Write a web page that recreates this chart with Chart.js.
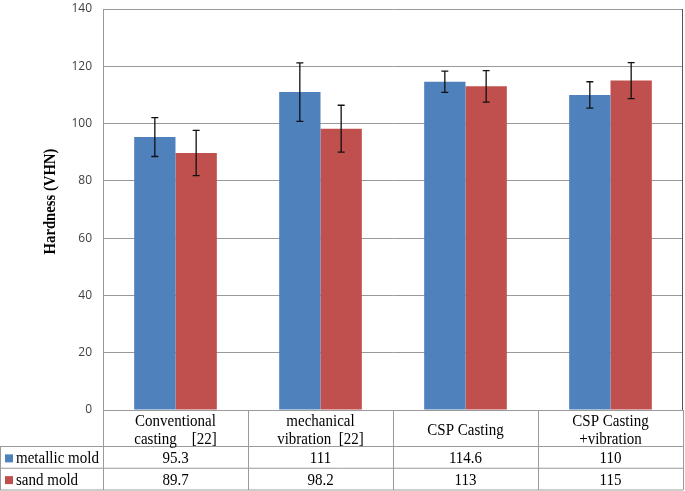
<!DOCTYPE html>
<html lang="en">
<head>
    <meta charset="UTF-8">
    <title>Hardness (VHN)</title>
    <script src="https://cdn.jsdelivr.net/npm/chart.js"></script>
    <style>
        html, body { margin: 0; padding: 0; background: #fff; }
    </style>
</head>
<body>
    <canvas id="hardnessChart" width="685" height="491"></canvas>

    <script>
        // chart data
        const categories = [
            ['Conventional', 'casting    [22]'],
            ['mechanical', 'vibration  [22]'],
            ['CSP Casting'],
            ['CSP Casting', '+vibration']
        ];
        const seriesNames = ['metallic mold', 'sand mold'];
        const metallicMold = [95.3, 111, 114.6, 110];
        const sandMold = [89.7, 98.2, 113, 115];
        const metallicErr = [6.8, 10.2, 3.7, 4.6];
        const sandErr = [7.9, 8.2, 5.5, 6.3];
        const yMin = 0, yMax = 140, yStep = 20;
        const yTitle = 'Hardness (VHN)';

        const colors = ['#4F81BD', '#C0504D'];
        const errors = [metallicErr, sandErr];
        const tableFont = '15px "Liberation Serif", "Times New Roman", serif';

        // text in the original is a little stretched vertically
        function tallText(ctx, t, x, y) {
            ctx.save();
            ctx.translate(x, y);
            ctx.scale(1, 1.15);
            ctx.fillText(t, 0, 0);
            ctx.restore();
        }

        // error bars on top of each bar
        const errorBars = {
            id: 'errorBars',
            afterDatasetsDraw(chart) {
                const ctx = chart.ctx;
                const y = chart.scales.y;
                ctx.save();
                ctx.strokeStyle = '#111';
                ctx.lineWidth = 1.3;
                chart.data.datasets.forEach((ds, d) => {
                    chart.getDatasetMeta(d).data.forEach((bar, i) => {
                        const hi = y.getPixelForValue(ds.data[i] + errors[d][i]);
                        const lo = y.getPixelForValue(ds.data[i] - errors[d][i]);
                        ctx.beginPath();
                        ctx.moveTo(bar.x, hi); ctx.lineTo(bar.x, lo);
                        ctx.moveTo(bar.x - 3.5, hi); ctx.lineTo(bar.x + 3.5, hi);
                        ctx.moveTo(bar.x - 3.5, lo); ctx.lineTo(bar.x + 3.5, lo);
                        ctx.stroke();
                    });
                });
                ctx.restore();
            }
        };

        // data table under the plot, axis title and frame
        const dataTable = {
            id: 'dataTable',
            afterDraw(chart) {
                const ctx = chart.ctx;
                const area = chart.chartArea;
                const x = chart.scales.x;
                const n = categories.length;
                const half = (x.getPixelForValue(1) - x.getPixelForValue(0)) / 2;
                const rowTop = area.bottom;
                const rowHead = 446.5, rowEnd = 490;
                const rowH = (rowEnd - rowHead) / 2;

                ctx.save();
                // right frame line
                ctx.strokeStyle = '#555';
                ctx.lineWidth = 1;
                ctx.beginPath();
                ctx.moveTo(Math.round(area.right) - 0.5, area.top);
                ctx.lineTo(Math.round(area.right) - 0.5, area.bottom);
                ctx.stroke();

                // table grid
                ctx.strokeStyle = '#9a9a9a';
                ctx.beginPath();
                ctx.moveTo(area.left, rowTop + 0.5); ctx.lineTo(area.right, rowTop + 0.5);
                ctx.moveTo(0, rowHead); ctx.lineTo(area.right, rowHead);
                ctx.moveTo(0, rowHead + rowH); ctx.lineTo(area.right, rowHead + rowH);
                ctx.moveTo(0, rowEnd); ctx.lineTo(area.right, rowEnd);
                ctx.moveTo(0.5, rowHead); ctx.lineTo(0.5, rowEnd);
                for (let i = 0; i <= n; i++) {
                    const bx = Math.round(x.getPixelForValue(i) - half) + 0.5;
                    ctx.moveTo(bx, rowTop); ctx.lineTo(bx, rowEnd);
                }
                ctx.stroke();

                ctx.font = tableFont;
                ctx.fillStyle = '#000';
                ctx.textAlign = 'center';
                ctx.textBaseline = 'middle';
                // category header
                categories.forEach((lines, i) => {
                    const cx = x.getPixelForValue(i);
                    const lh = 18;
                    const y0 = 430 - (lines.length - 1) * lh / 2;
                    lines.forEach((t, k) => tallText(ctx, t, cx, y0 + k * lh));
                });
                // series rows
                chart.data.datasets.forEach((ds, d) => {
                    const cy = rowHead + rowH * d + rowH / 2 + 1;
                    ctx.fillStyle = colors[d];
                    ctx.fillRect(5, cy - 4, 8, 8);
                    ctx.fillStyle = '#000';
                    ctx.textAlign = 'left';
                    tallText(ctx, ds.label, 16, cy);
                    ctx.textAlign = 'center';
                    ds.data.forEach((v, i) => tallText(ctx, String(v), x.getPixelForValue(i), cy));
                });

                // y axis title
                ctx.translate(51, (area.top + area.bottom) / 2 - 8);
                ctx.rotate(-Math.PI / 2);
                ctx.font = 'bold 14px "Liberation Serif", "Times New Roman", serif';
                ctx.scale(1.05, 1.15);
                ctx.fillText(yTitle, 0, 0);
                ctx.restore();
            }
        };

        new Chart(document.getElementById('hardnessChart').getContext('2d'), {
            type: 'bar',
            data: {
                labels: categories,
                datasets: [
                    { label: seriesNames[0], data: metallicMold, backgroundColor: colors[0] },
                    { label: seriesNames[1], data: sandMold, backgroundColor: colors[1] }
                ]
            },
            options: {
                responsive: false,
                animation: false,
                layout: { padding: { top: 9, right: 2, bottom: 81, left: 0 } },
                datasets: { bar: { categoryPercentage: 0.57, barPercentage: 1.0 } },
                plugins: { legend: { display: false }, tooltip: { enabled: false } },
                scales: {
                    x: { display: false },
                    y: {
                        min: yMin,
                        max: yMax,
                        afterFit(scale) {
                            scale.width = 103;
                            scale.paddingTop = 0;
                            scale.paddingBottom = 0;
                        },
                        ticks: {
                            stepSize: yStep,
                            padding: 11,
                            color: '#404040',
                            font: { family: '"Open Sans", sans-serif', size: 12 }
                        },
                        grid: { color: '#999', drawTicks: false },
                        border: { color: '#999' }
                    }
                }
            },
            plugins: [errorBars, dataTable]
        });
    </script>
</body>
</html>
